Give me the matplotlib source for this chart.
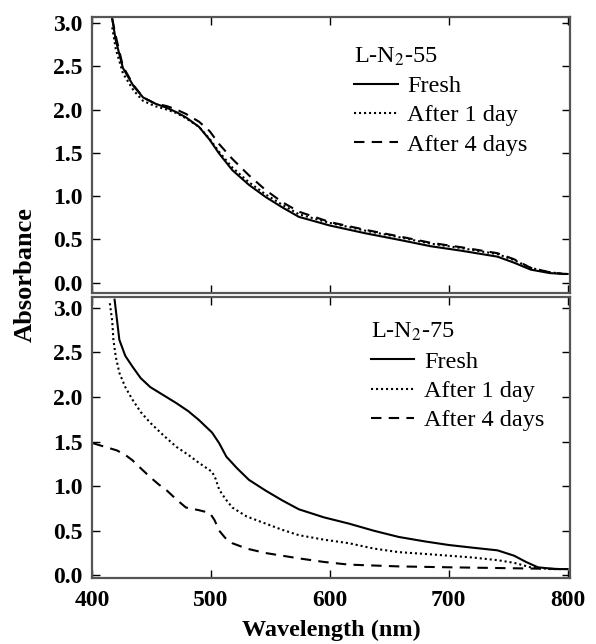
import matplotlib.pyplot as plt

plt.rcParams['font.family'] = ['Liberation Serif', 'DejaVu Serif']
plt.rcParams['mathtext.fontset'] = 'stix'

# L-N2-55 panel
wl_55 = [417, 420, 426, 435, 443, 453, 463, 471, 479, 490, 499, 507, 518, 532, 546, 560, 574,
         600, 630, 660, 685, 710, 741, 755, 769, 785, 797, 800]
fresh_55 = [3.05, 2.80, 2.48, 2.27, 2.14, 2.07, 2.02, 1.97, 1.91, 1.80, 1.65, 1.49, 1.30, 1.13, 0.99,
            0.87, 0.76, 0.66, 0.57, 0.49, 0.42, 0.37, 0.30, 0.23, 0.15, 0.11, 0.10, 0.10]
day1_55 = [2.95, 2.70, 2.42, 2.22, 2.10, 2.04, 2.00, 1.96, 1.90, 1.80, 1.66, 1.51, 1.33, 1.16, 1.02,
           0.90, 0.79, 0.69, 0.60, 0.52, 0.45, 0.40, 0.33, 0.26, 0.17, 0.12, 0.10, 0.10]
day4_55 = [3.05, 2.85, 2.50, 2.28, 2.14, 2.07, 2.04, 2.00, 1.95, 1.86, 1.75, 1.60, 1.43, 1.24, 1.07,
           0.93, 0.82, 0.70, 0.61, 0.53, 0.46, 0.41, 0.34, 0.27, 0.17, 0.12, 0.10, 0.10]

# L-N2-75 panel
wl_fresh_75 = [419, 423, 428, 434, 441, 449, 460, 471, 481, 490, 501, 507, 513, 522, 532, 546, 560,
               574, 595, 616, 637, 658, 680, 700, 720, 741, 755, 765, 775, 790, 800]
fresh_75 = [3.09, 2.64, 2.46, 2.34, 2.21, 2.11, 2.02, 1.93, 1.84, 1.74, 1.60, 1.48, 1.33, 1.20, 1.07,
            0.95, 0.84, 0.74, 0.65, 0.58, 0.50, 0.43, 0.38, 0.34, 0.31, 0.28, 0.22, 0.15, 0.09, 0.07, 0.07]
wl_day1_75 = [415, 417, 418, 420, 423, 428, 434, 441, 449, 460, 471, 481, 490, 501, 504, 507, 512,
              518, 530, 546, 560, 574, 595, 616, 637, 658, 680, 700, 720, 741, 755, 769, 785, 800]
day1_75 = [3.05, 2.85, 2.64, 2.45, 2.27, 2.11, 1.97, 1.83, 1.71, 1.57, 1.44, 1.35, 1.26, 1.16, 1.08,
           0.96, 0.86, 0.76, 0.66, 0.58, 0.51, 0.45, 0.40, 0.36, 0.30, 0.26, 0.24, 0.22, 0.20, 0.17,
           0.14, 0.09, 0.07, 0.07]
wl_day4_75 = [401, 411, 421, 428, 434, 441, 449, 456, 463, 471, 479, 490, 499, 503, 507, 512, 518,
              530, 546, 560, 574, 595, 616, 658, 700, 750, 800]
day4_75 = [1.48, 1.44, 1.40, 1.35, 1.29, 1.20, 1.10, 1.02, 0.95, 0.85, 0.76, 0.73, 0.70, 0.62, 0.50,
           0.42, 0.36, 0.30, 0.25, 0.22, 0.19, 0.15, 0.12, 0.10, 0.09, 0.08, 0.07]

x_ticks = [400, 500, 600, 700, 800]
y_ticks = [0.0, 0.5, 1.0, 1.5, 2.0, 2.5, 3.0]
labels = ['Fresh', 'After 1 day', 'After 4 days']
styles = ['-', (0, (1, 1.4)), (0, (5, 3.5))]

fig = plt.figure(figsize=(5.96, 6.44), dpi=100)
ax1 = fig.add_axes([92 / 596, 1 - 293 / 644, 478 / 596, 276 / 644])
ax2 = fig.add_axes([92 / 596, 1 - 578 / 644, 478 / 596, 281 / 644])

panels = [
    (ax1, [(wl_55, fresh_55), (wl_55, day1_55), (wl_55, day4_55)], 'L-N$_2$-55', (-0.12, 3.07), (0.548, 0.897)),
    (ax2, [(wl_fresh_75, fresh_75), (wl_day1_75, day1_75), (wl_day4_75, day4_75)], 'L-N$_2$-75',
     (-0.03, 3.12), (0.583, 0.914)),
]

for ax, series, title, ylim, anchor in panels:
    for (x, y), ls, lab in zip(series, styles, labels):
        ax.plot(x, y, color='black', linestyle=ls, linewidth=1.5, label=lab)
    ax.set_xlim(400, 802)
    ax.set_ylim(*ylim)
    ax.set_xticks(x_ticks)
    ax.set_yticks(y_ticks)
    ax.tick_params(direction='in', top=True, right=True, length=6, width=1, labelsize=17)
    ax.tick_params(axis='y', pad=7)
    ax.tick_params(axis='x', pad=9)
    for lab in ax.get_yticklabels() + ax.get_xticklabels():
        lab.set_fontweight('bold')
    for sp in ax.spines.values():
        sp.set_color('#555555')
        sp.set_linewidth(1.6)
    leg = ax.legend(title=title, loc='upper left', bbox_to_anchor=anchor, frameon=False,
                    fontsize=17.5, title_fontsize=17.5, handlelength=1.8, handletextpad=0.4,
                    labelspacing=0.3, borderpad=0.0, borderaxespad=0.0)
    leg._legend_box.align = 'left'

ax1.tick_params(labelbottom=False)
fig.text(0.042, 1 - 275 / 644, 'Absorbance', rotation=90, ha='center', va='center',
         fontsize=19, fontweight='bold')
ax2.set_xlabel('Wavelength (nm)', fontsize=17.5, fontweight='bold', labelpad=6)

fig.savefig('out.png', dpi=100)
